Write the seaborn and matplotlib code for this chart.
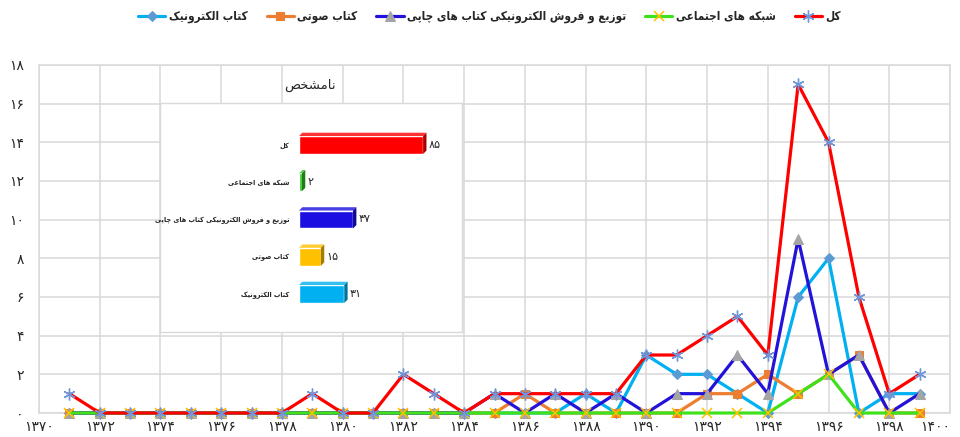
import numpy as np
import pandas as pd
import seaborn as sns
import matplotlib.pyplot as plt
import matplotlib.colors as mcolors
from matplotlib.patches import Polygon

# --- data ---
years = list(range(1371, 1400))
ebook = [0, 0, 0, 0, 0, 0, 0, 0, 0, 0, 0, 0, 0, 0, 0, 0, 0, 1, 0, 3, 2, 2, 1, 0, 6, 8, 0, 1, 1]
audio = [0, 0, 0, 0, 0, 0, 0, 0, 0, 0, 0, 0, 0, 0, 0, 1, 0, 0, 0, 0, 0, 1, 1, 2, 1, 2, 3, 0, 0]
distrib = [0, 0, 0, 0, 0, 0, 0, 0, 0, 0, 0, 0, 0, 0, 1, 0, 1, 0, 1, 0, 1, 1, 3, 1, 9, 2, 3, 0, 1]
social = [0, 0, 0, 0, 0, 0, 0, 0, 0, 0, 0, 0, 0, 0, 0, 0, 0, 0, 0, 0, 0, 0, 0, 0, 1, 2, 0, 0, 0]
total = [1, 0, 0, 0, 0, 0, 0, 0, 1, 0, 0, 2, 1, 0, 1, 1, 1, 1, 1, 3, 3, 4, 5, 3, 17, 14, 6, 1, 2]

series_names = ['کتاب الکترونیک', 'کتاب صوتی', 'توزیع و فروش الکترونیکی کتاب های چاپی',
                'شبکه های اجتماعی', 'کل']

inset_title = 'نامشخص'
inset_cats = ['کل', 'شبکه های اجتماعی', 'توزیع و فروش الکترونیکی کتاب های چاپی',
              'کتاب صوتی', 'کتاب الکترونیک']
inset_vals = [85, 2, 37, 15, 31]

x_ticks = list(range(1370, 1401, 2))
y_ticks = list(range(0, 19, 2))

# --- minimal arabic/persian shaping (matplotlib has no bidi) ---
FORMS = {
    'ا': ('\uFE8D', '\uFE8E', None, None),
    'ب': ('\uFE8F', '\uFE90', '\uFE91', '\uFE92'),
    'پ': ('\uFB56', '\uFB57', '\uFB58', '\uFB59'),
    'ت': ('\uFE95', '\uFE96', '\uFE97', '\uFE98'),
    'ج': ('\uFE9D', '\uFE9E', '\uFE9F', '\uFEA0'),
    'چ': ('\uFB7A', '\uFB7B', '\uFB7C', '\uFB7D'),
    'خ': ('\uFEA5', '\uFEA6', '\uFEA7', '\uFEA8'),
    'د': ('\uFEA9', '\uFEAA', None, None),
    'ر': ('\uFEAD', '\uFEAE', None, None),
    'ز': ('\uFEAF', '\uFEB0', None, None),
    'ش': ('\uFEB5', '\uFEB6', '\uFEB7', '\uFEB8'),
    'ص': ('\uFEB9', '\uFEBA', '\uFEBB', '\uFEBC'),
    'ع': ('\uFEC9', '\uFECA', '\uFECB', '\uFECC'),
    'ف': ('\uFED1', '\uFED2', '\uFED3', '\uFED4'),
    'ک': ('\uFB8E', '\uFB8F', '\uFB90', '\uFB91'),
    'ل': ('\uFEDD', '\uFEDE', '\uFEDF', '\uFEE0'),
    'م': ('\uFEE1', '\uFEE2', '\uFEE3', '\uFEE4'),
    'ن': ('\uFEE5', '\uFEE6', '\uFEE7', '\uFEE8'),
    'و': ('\uFEED', '\uFEEE', None, None),
    'ه': ('\uFEE9', '\uFEEA', '\uFEEB', '\uFEEC'),
    'ی': ('\uFBFC', '\uFBFD', '\uFBFE', '\uFBFF'),
}


def fa(text):
    out = []
    for i, ch in enumerate(text):
        if ch not in FORMS:
            out.append(ch)
            continue
        iso, fin, ini, med = FORMS[ch]
        prev = text[i - 1] if i > 0 else ''
        nxt = text[i + 1] if i + 1 < len(text) else ''
        jp = prev in FORMS and FORMS[prev][2] is not None
        jn = ini is not None and nxt in FORMS
        if jp and jn:
            out.append(med)
        elif jp:
            out.append(fin)
        elif jn:
            out.append(ini)
        else:
            out.append(iso)
    return ''.join(reversed(out))


def pdig(n):
    return str(n).translate(str.maketrans('0123456789', '۰۱۲۳۴۵۶۷۸۹'))


sns.set_theme(style='white')
plt.rcParams['font.family'] = ['DejaVu Sans']

fig = plt.figure(figsize=(9.6, 4.37), dpi=100)
W, H = 960, 437
ax = fig.add_axes([39 / W, 24 / H, 911 / W, 348 / H])

styles = [
    dict(color='#00B0F0', marker='D', ms=5, mfc='#5B9BD5', mec='#5B9BD5'),
    dict(color='#ED7D31', marker='s', ms=5.5, mfc='#ED7D31', mec='#ED7D31'),
    dict(color='#2312D8', marker='^', ms=7, mfc='#A5A5A5', mec='#A5A5A5'),
    dict(color='#3FE01C', marker='x', ms=6.5, mfc='#FFC000', mec='#FFC000', mew=1.1),
    dict(color='#FF0000', marker=(6, 2, 0), ms=8.5, mfc='#6F95DA', mec='#6F95DA', mew=1.0),
]
all_series = [ebook, audio, distrib, social, total]

for i, (vals, name, st) in enumerate(zip(all_series, series_names, styles)):
    sns.lineplot(x=years, y=vals, ax=ax, label=fa(name), lw=2.3, zorder=3 + i,
                 clip_on=False, **st)

ax.set_xlim(1370, 1400)
ax.set_ylim(0, 18)
ax.set_xticks(x_ticks)
ax.set_xticklabels([pdig(t) for t in x_ticks], fontsize=10)
ax.get_xticklabels()[-1].set_horizontalalignment('right')
ax.set_yticks(y_ticks)
ax.set_yticklabels([pdig(t) for t in y_ticks], fontsize=10)
ax.tick_params(axis='x', length=0, pad=5)
ax.tick_params(axis='y', length=0, pad=11)
ax.grid(True, color='#D9D9D9', lw=1.1)
ax.set_axisbelow(True)
for s in ax.spines.values():
    s.set_color('#D9D9D9')
    s.set_linewidth(1.1)

handles, labels = ax.get_legend_handles_labels()
ax.get_legend().remove()
fig.legend(handles, labels, loc='center', bbox_to_anchor=(0.51, 0.962), ncol=5,
           frameon=False, prop={'weight': 'bold', 'size': 8.5, 'stretch': 'condensed'},
           handlelength=2.3, handletextpad=0.3, columnspacing=1.6)

# --- inset bar chart pasted on the plot ---
box = fig.add_axes([160 / W, (H - 332) / H, 302 / W, 229 / H])
box.set_facecolor('white')
box.set_xticks([])
box.set_yticks([])
for s in box.spines.values():
    s.set_color('#D9D9D9')
    s.set_linewidth(1.0)

fig.text(310 / W, 1 - 85 / H, fa(inset_title), fontsize=9.5, ha='center', va='center')

axb = fig.add_axes([299 / W, (H - 332) / H, 163 / W, 229 / H])
axb.patch.set_alpha(0)
bar_colors = ['#FF0000', '#2DC21E', '#1A0FE0', '#FFC000', '#00B0F0']
shaped = [fa(c) for c in inset_cats]
sns.barplot(x=inset_vals, y=shaped, hue=shaped, palette=bar_colors, legend=False,
            orient='h', width=0.48, ax=axb, saturation=1)
axb.set_xlim(0, 163 / 1.46)
axb.set_ylim(4 + 38 / 37.25, -42 / 37.25)
axb.set_xticks([])
axb.set_xlabel('')
axb.set_ylabel('')
axb.tick_params(axis='y', length=0, pad=7, labelsize=5.2)
for lab in axb.get_yticklabels():
    lab.set_fontstretch('condensed')
    lab.set_fontweight('bold')
for s in axb.spines.values():
    s.set_visible(False)

dx, dy = 2.3, 0.09
for p, c in zip(axb.patches, bar_colors):
    x0, y0 = p.get_x(), p.get_y()
    w, h = p.get_width(), p.get_height()
    yt, yb = min(y0, y0 + h), max(y0, y0 + h)
    rgb = np.array(mcolors.to_rgb(c))
    top = Polygon([(x0, yt), (x0 + dx, yt - dy), (x0 + w + dx, yt - dy), (x0 + w, yt)],
                  closed=True, color=rgb * 0.8 + 0.2, lw=0)
    side = Polygon([(x0 + w, yt), (x0 + w + dx, yt - dy), (x0 + w + dx, yb - dy), (x0 + w, yb)],
                   closed=True, color=rgb * 0.65, lw=0)
    axb.add_patch(top)
    axb.add_patch(side)

for cont, v in zip(axb.containers, inset_vals):
    axb.bar_label(cont, labels=[pdig(v)], padding=4, fontsize=8)

fig.savefig('out.png', dpi=100)
